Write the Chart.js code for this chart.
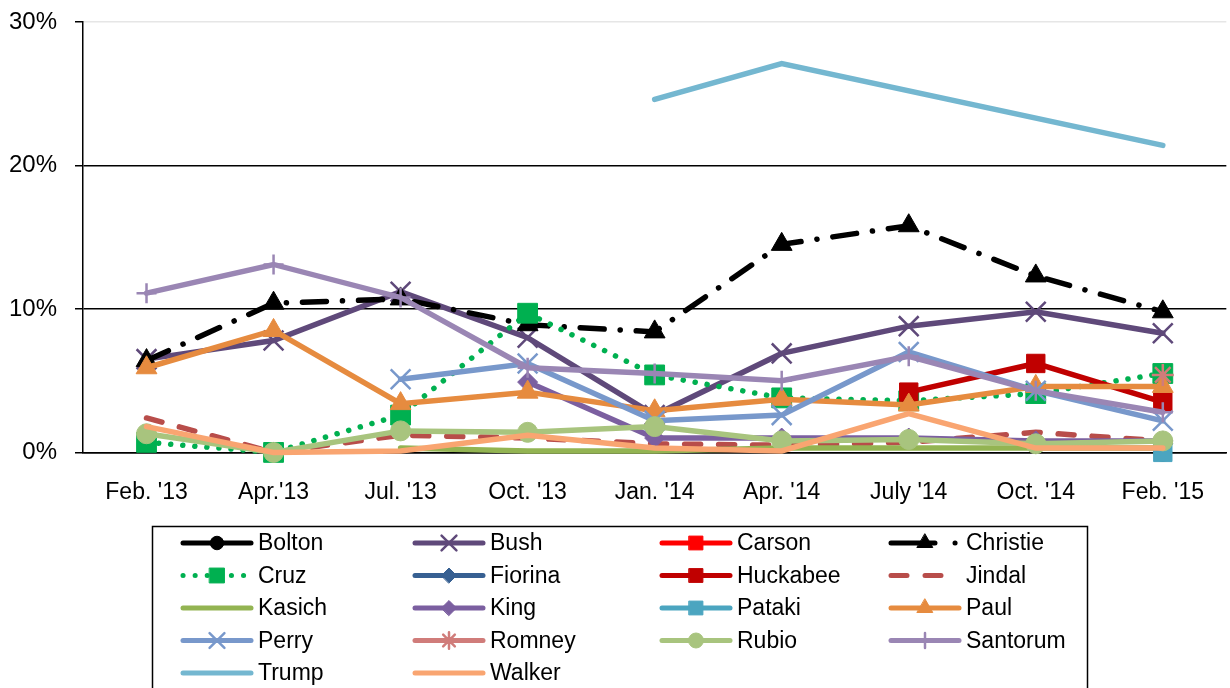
<!DOCTYPE html>
<html>
<head>
<meta charset="utf-8">
<script src="https://cdn.jsdelivr.net/npm/chart.js@4"></script>
<style>
  html, body { margin: 0; padding: 0; background: #fff; }
  canvas { display: block; }
</style>
</head>
<body>
<canvas id="chart" width="1230" height="688"></canvas>
<script>
// poll share in %, null = not polled
const labels = ["Feb. '13", "Apr.'13", "Jul. '13", "Oct. '13", "Jan. '14", "Apr. '14", "July '14", "Oct. '14", "Feb. '15"];
const bolton   = [null, null, null, null, null, null, null, null, 0];
const bush     = [6.5, 7.8, 11.2, 8.0, 2.6, 6.9, 8.8, 9.8, 8.3];
const carson   = [null, null, null, null, null, null, null, null, null];
const christie = [6.4, 10.4, 10.7, 8.9, 8.4, 14.5, 15.8, 12.3, 9.8];
const cruz     = [0.7, 0, 2.6, 9.7, 5.4, 3.8, 3.6, 4.1, 5.5];
const fiorina  = [null, null, null, null, null, null, null, null, 0.6];
const huckabee = [null, null, null, null, null, null, 4.2, 6.2, 3.5];
const jindal   = [2.4, 0, 1.2, 1.0, 0.6, 0.5, 0.7, 1.4, 0.8];
const kasich   = [null, null, 0.3, 0.1, 0.1, 0.3, 0.3, 0.3, 0.3];
const king     = [null, null, null, 4.9, 1.0, 1.0, 1.0, 0.8, 0.8];
const pataki   = [null, null, null, null, null, null, null, null, 0];
const paul     = [5.9, 8.5, 3.4, 4.2, 2.9, 3.7, 3.3, 4.6, 4.6];
const perry    = [null, null, 5.1, 6.2, 2.2, 2.6, 7.0, 4.3, 2.2];
const romney   = [null, null, null, null, null, null, null, null, 5.4];
const rubio    = [1.3, 0, 1.5, 1.4, 1.8, 0.8, 0.9, 0.6, 0.8];
const santorum = [11.1, 13.1, 10.8, 5.9, 5.5, 5.0, 6.7, 4.3, 2.8];
const trump    = [null, null, null, null, 24.6, 27.1, null, null, 21.4];
const walker   = [1.8, 0, 0.1, 1.2, 0.3, 0.1, 2.7, 0.3, 0.3];

const FONT = '"Liberation Sans", Arial, sans-serif';

function series(label, data, color, marker, radius, extra) {
  return Object.assign({
    label, data,
    borderColor: color,
    backgroundColor: color,
    borderWidth: 5.5,
    borderCapStyle: 'round',
    pointStyle: marker || 'circle',
    pointRadius: marker ? radius : 0,
    pointHoverRadius: marker ? radius : 0,
    pointBackgroundColor: color,
    pointBorderColor: color,
    pointBorderWidth: marker === 'cross' || marker === 'crossRot' || marker === 'star' ? 2.5 : 1,
    tension: 0,
    clip: false,
    spanGaps: false
  }, extra || {});
}

const datasets = [
  series('Bolton', bolton, '#000000', 'circle', 9),
  series('Bush', bush, '#5F497A', 'crossRot', 14),
  series('Carson', carson, '#FF0000', 'rect', 13),
  series('Christie', christie, '#000000', 'triangle', 12, { borderDash: [24, 16, 0.1, 16], legendDash: [44, 20, 0.1, 100] }),
  series('Cruz', cruz, '#00B050', 'rect', 14, { borderDash: [0.1, 12] }),
  series('Fiorina', fiorina, '#376092', 'rectRot', 10),
  series('Huckabee', huckabee, '#C00000', 'rect', 13),
  series('Jindal', jindal, '#B84D4A', null, 0, { borderDash: [16, 18] }),
  series('Kasich', kasich, '#93B452', null, 0),
  series('King', king, '#7B5FA0', 'rectRot', 10),
  series('Pataki', pataki, '#4BA5C0', 'rect', 13),
  series('Paul', paul, '#E68B3F', 'triangle', 12),
  series('Perry', perry, '#7898CB', 'crossRot', 14),
  series('Romney', romney, '#D07C7A', 'star', 11),
  series('Rubio', rubio, '#A8C47E', 'circle', 10),
  series('Santorum', santorum, '#9A86B4', 'cross', 10),
  series('Trump', trump, '#74B7D0', null, 0, { spanGaps: true }),
  series('Walker', walker, '#F9A571', null, 0)
];
// later series drawn on top, as in the original
datasets.forEach((d, i) => { d.order = datasets.length - i; });

const legendCols = [183, 415, 662, 891];
const legendTop = 543;
const legendStep = 32.5;

const gridLegend = {
  id: 'gridLegend',
  afterDraw(chart) {
    const ctx = chart.ctx;
    ctx.save();
    ctx.strokeStyle = '#000';
    ctx.lineWidth = 1.5;
    ctx.strokeRect(152.5, 526.5, 935, 220);
    chart.data.datasets.forEach((ds, i) => {
      const x = legendCols[i % 4];
      const y = legendTop + Math.floor(i / 4) * legendStep;
      ctx.save();
      ctx.strokeStyle = ds.borderColor;
      ctx.lineWidth = 5;
      ctx.lineCap = 'round';
      ctx.setLineDash(ds.legendDash || ds.borderDash || []);
      ctx.beginPath();
      ctx.moveTo(x, y);
      ctx.lineTo(x + 68, y);
      ctx.stroke();
      ctx.setLineDash([]);
      if (ds.pointRadius > 0) {
        ctx.fillStyle = ds.pointBackgroundColor;
        ctx.strokeStyle = ds.pointBorderColor;
        ctx.lineWidth = ds.pointBorderWidth;
        Chart.helpers.drawPoint(ctx, {
          pointStyle: ds.pointStyle,
          radius: ds.pointRadius * 0.75,
          borderWidth: ds.pointBorderWidth,
          rotation: 0
        }, x + 34, y);
      }
      ctx.fillStyle = '#000';
      ctx.font = '23px ' + FONT;
      ctx.textBaseline = 'middle';
      ctx.fillText(ds.label, x + 75, y + 1);
      ctx.restore();
    });
    ctx.restore();
  }
};

new Chart(document.getElementById('chart').getContext('2d'), {
  type: 'line',
  data: { labels, datasets },
  plugins: [gridLegend],
  options: {
    responsive: false,
    devicePixelRatio: 1,
    animation: false,
    layout: { autoPadding: false, padding: { top: 0, left: 8, right: 0, bottom: 156 } },
    plugins: { legend: { display: false }, tooltip: { enabled: false }, title: { display: false } },
    scales: {
      x: {
        offset: true,
        grid: { display: false, drawTicks: false },
        border: { display: true, color: '#000', width: 1.5 },
        ticks: { color: '#000', font: { family: FONT, size: 23 }, padding: 26, maxRotation: 0 }
      },
      y: {
        min: 0,
        max: 30,
        afterFit: scale => { scale.width = 75; scale.paddingTop = 22; scale.paddingBottom = 0; },
        ticks: { stepSize: 10, color: '#000', font: { family: FONT, size: 24 }, padding: 18,
                 callback: v => v + '%' },
        grid: {
          color: ctx => ctx.tick && ctx.tick.value === 30 ? '#E6E6E6' : '#000',
          lineWidth: 1.5,
          tickColor: '#000',
          tickLength: 8
        },
        border: { display: true, color: '#000', width: 1.5 }
      }
    }
  }
});
</script>
</body>
</html>
